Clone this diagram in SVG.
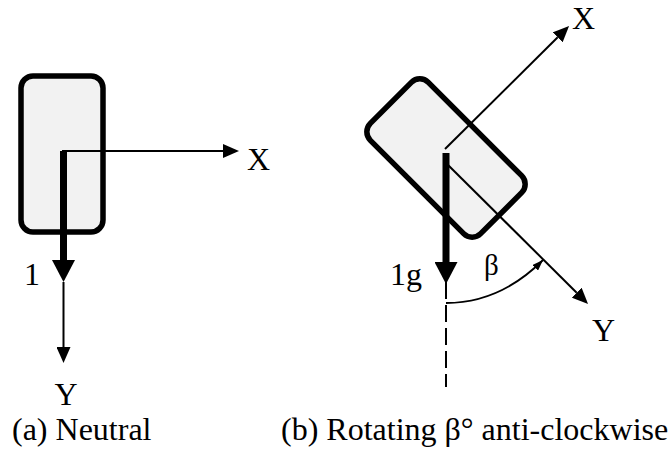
<svg xmlns="http://www.w3.org/2000/svg" width="668" height="453" viewBox="0 0 668 453">
<style>
.body{fill:#f2f2f2;stroke:#000;stroke-width:5.5}
.thin{stroke:#000;stroke-width:2;fill:none}
.thick{stroke:#000;stroke-width:7;fill:none}
.dash{stroke:#000;stroke-width:2;stroke-dasharray:17 6;fill:none}
.arc{stroke:#000;stroke-width:1.8;fill:none}
text{font-family:"Liberation Serif","Times New Roman",serif;font-size:32px;fill:#000}
</style>
<defs>
<marker id="ah" markerUnits="userSpaceOnUse" markerWidth="16" markerHeight="14" refX="0" refY="7" orient="auto" viewBox="0 0 16 14">
<path d="M0,0 L16,7 L0,14 z" fill="#000"/>
</marker>
<marker id="ahThick" markerUnits="userSpaceOnUse" markerWidth="22" markerHeight="23" refX="0" refY="11.5" orient="auto" viewBox="0 0 22 23">
<path d="M0,0 L22,11.5 L0,23 z" fill="#000"/>
</marker>
<marker id="ahSmall" markerUnits="userSpaceOnUse" markerWidth="11" markerHeight="8" refX="11" refY="4" orient="auto" viewBox="0 0 11 8">
<path d="M0,0 L11,4 L0,8 z" fill="#000"/>
</marker>
</defs>

<g id="neutral-body">
<rect class="body" x="21" y="76" width="82" height="156" rx="12"/>
</g>
<g id="rotated-body">
<rect class="body" x="-41" y="-78" width="82" height="156" rx="12" transform="translate(446,158) rotate(-45)"/>
</g>

<g id="connectors">
<line class="thin" x1="62" y1="151" x2="223" y2="151" marker-end="url(#ah)"/>
<line class="thick" x1="63.5" y1="151" x2="63.5" y2="260" marker-end="url(#ahThick)"/>
<line class="thin" x1="63.5" y1="282" x2="63.5" y2="347" marker-end="url(#ah)"/>

<line class="thin" x1="445" y1="149" x2="557.7" y2="37.3" marker-end="url(#ah)"/>
<line class="thin" x1="446" y1="163" x2="576.7" y2="292.7" marker-end="url(#ah)"/>
<line class="thick" x1="446" y1="153" x2="446" y2="262" marker-end="url(#ahThick)"/>
<line class="dash" x1="446" y1="282" x2="446" y2="387"/>
<path class="arc" d="M446,303 Q500,303 543,260" marker-end="url(#ahSmall)"/>
</g>

<g id="labels">
<text x="247" y="170">X</text>
<text x="24" y="285">1</text>
<text x="66" y="405" text-anchor="middle">Y</text>
<text x="12" y="440">(a) Neutral</text>

<text x="572" y="29">X</text>
<text x="592" y="341">Y</text>
<text x="390" y="285">1g</text>
<text x="484" y="275" style="font-size:29px">β</text>
<text x="281" y="440">(b) Rotating β° anti-clockwise</text>
</g>
</svg>
